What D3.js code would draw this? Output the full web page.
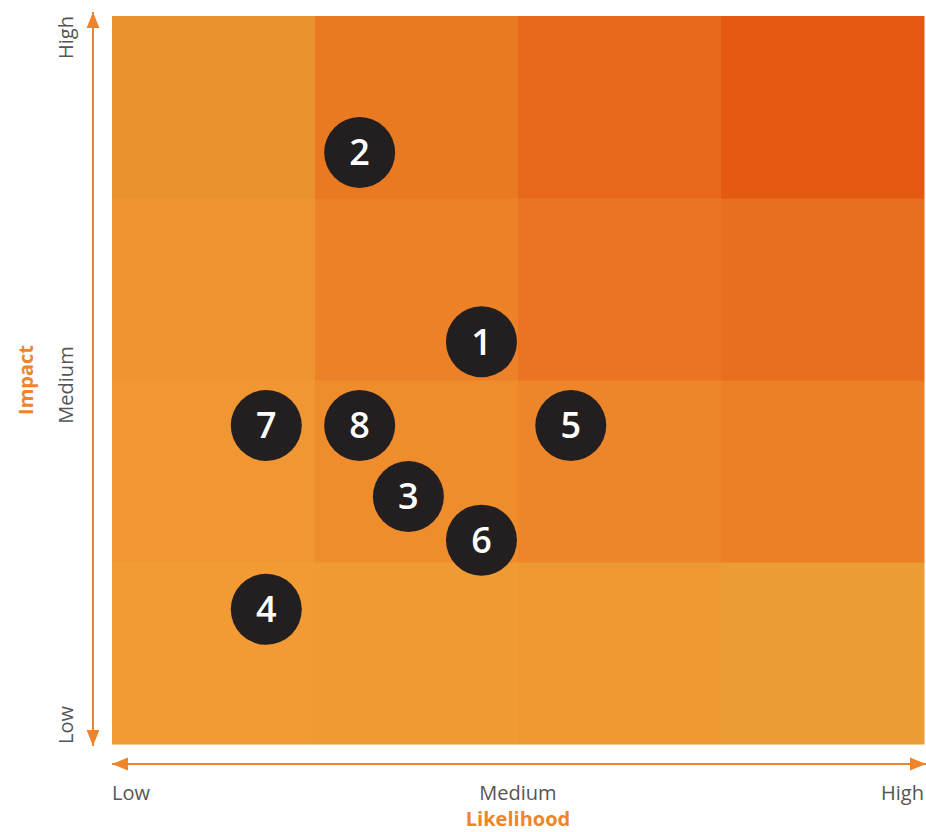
<!DOCTYPE html>
<html><head><meta charset="utf-8">
<script src="https://cdn.jsdelivr.net/npm/d3@7"></script>
<style>body{margin:0;background:#fff}svg{display:block;font-family:"Open Sans",sans-serif}</style>
</head><body><svg id="c" width="926" height="832"></svg>
<script>
const levels = ["Low", "Medium", "High"];
const riskIds = ["1","2","3","4","5","6","7","8"];
const likelihood = [1.82, 1.22, 1.46, 0.76, 2.26, 1.82, 0.76, 1.22];
const impact = [2.21, 3.25, 1.36, 0.74, 1.75, 1.12, 1.75, 1.75];
// cell colors, rows from Low impact to High impact, columns from Low to High likelihood
const cellColors = [
  ["#F29A33", "#F09A33", "#EF9832", "#EB9C35"],
  ["#F09632", "#EF8D2C", "#ED862A", "#EB8027"],
  ["#EE9430", "#EC8127", "#EA7421", "#E86F1E"],
  ["#E9922E", "#EA7A22", "#E8681A", "#E45A12"]
];

const svg = d3.select("#c");
const x = d3.scaleLinear().domain([0, 4]).range([112, 924]);
const y = d3.scaleLinear().domain([0, 4]).range([744, 16]);
const orange = "#F0842A";

const cells = [];
cellColors.forEach((row, r) => row.forEach((c, col) => cells.push({r, col, c})));
svg.append("g").selectAll("rect").data(cells).join("rect")
  .attr("x", d => x(d.col)).attr("y", d => y(d.r + 1))
  .attr("width", d => x(d.col + 1) - x(d.col) + 0.5)
  .attr("height", d => y(d.r) - y(d.r + 1) + 0.5)
  .attr("fill", d => d.c);

const defs = svg.append("defs");
defs.append("marker").attr("id", "ah").attr("viewBox", "0 0 10 10")
  .attr("refX", 10).attr("refY", 5).attr("markerWidth", 16).attr("markerHeight", 16)
  .attr("markerUnits", "userSpaceOnUse").attr("orient", "auto-start-reverse")
  .append("path").attr("d", "M0,1 L10,5 L0,9 Z").attr("fill", orange);

svg.append("line").attr("x1", 93).attr("x2", 93).attr("y1", 12).attr("y2", 746)
  .attr("stroke", orange).attr("stroke-width", 2)
  .attr("marker-start", "url(#ah)").attr("marker-end", "url(#ah)");
svg.append("line").attr("x1", 112).attr("x2", 926).attr("y1", 764).attr("y2", 764)
  .attr("stroke", orange).attr("stroke-width", 2)
  .attr("marker-start", "url(#ah)").attr("marker-end", "url(#ah)");

// y tick labels
const yPos = [y(0), (y(0) + y(4)) / 2 + 5, y(4)];
const yAnchor = ["start", "middle", "end"];
levels.forEach((t, i) => {
  svg.append("text").attr("transform", `translate(73,${yPos[i]}) rotate(-90)`)
    .attr("text-anchor", yAnchor[i]).attr("font-size", 20).attr("fill", "#555")
    .text(t);
});
svg.append("text").attr("transform", `translate(33,380) rotate(-90)`)
  .attr("text-anchor", "middle").attr("font-size", 20).attr("font-weight", 700)
  .attr("fill", orange).text("Impact");

// x tick labels
const xPos = [x(0), x(2), x(4)];
levels.forEach((t, i) => {
  svg.append("text").attr("x", xPos[i]).attr("y", 800)
    .attr("text-anchor", yAnchor[i]).attr("font-size", 20).attr("fill", "#555")
    .text(t);
});
svg.append("text").attr("x", x(2)).attr("y", 826).attr("text-anchor", "middle")
  .attr("font-size", 20).attr("font-weight", 700).attr("fill", orange).text("Likelihood");

const pts = riskIds.map((id, i) => ({id, lx: likelihood[i], im: impact[i]}));
const g = svg.append("g").selectAll("g").data(pts).join("g")
  .attr("transform", d => `translate(${x(d.lx)},${y(d.im)})`);
g.append("circle").attr("r", 35.5).attr("fill", "#231F20");
g.append("text").attr("text-anchor", "middle").attr("dy", "0.36em")
  .attr("font-size", 36).attr("font-weight", 600).attr("fill", "#fff").text(d => d.id);
</script></body></html>
